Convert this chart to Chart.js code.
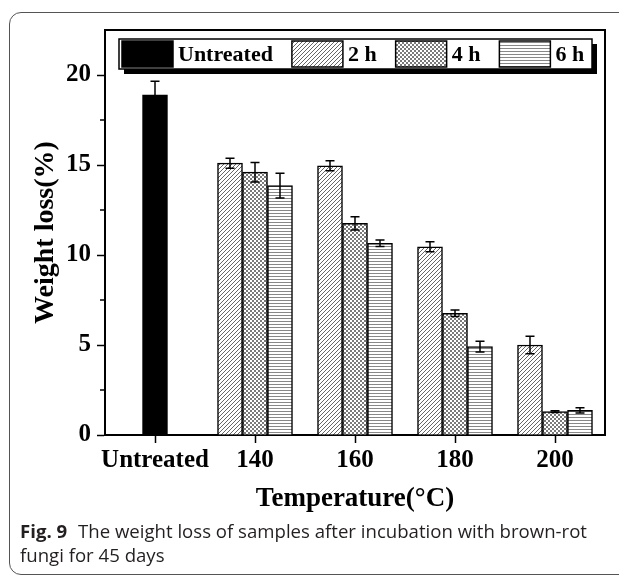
<!DOCTYPE html>
<html lang="en">
<head>
  <meta charset="UTF-8">
  <title>Weight loss after incubation</title>
  <script src="https://cdn.jsdelivr.net/npm/chart.js"></script>
  <style>
    body { margin: 0; background: #fff; overflow: hidden; }
    #wrap { position: relative; width: 619px; height: 576px; }
    #frame { position: absolute; left: 9px; top: 12px; width: 640px; height: 563px;
             border: 1px solid #555; border-radius: 12px; box-sizing: border-box; }
    #myChart { position: absolute; left: 0; top: 0; }
    #caption { position: absolute; left: 20px; top: 519px; font-family: "Open Sans", sans-serif;
               font-size: 18.6px; line-height: 24px; color: #231f20; white-space: nowrap; }
    #caption b { font-weight: 700; margin-right: 6px; }
  </style>
</head>
<body>
  <div id="wrap">
    <div id="frame"></div>
    <canvas id="myChart" width="619" height="576"></canvas>
    <div id="caption"><b>Fig. 9</b> The weight loss of samples after incubation with brown-rot<br>fungi for 45 days</div>
  </div>
  <script>
    // data
    const categories = ['Untreated', '140', '160', '180', '200'];
    const untreated    = [18.9, null, null, null, null];
    const untreatedErr = [0.75, null, null, null, null];
    const h2    = [null, 15.1, 14.96, 10.46, 5.0];
    const h2Err = [null, 0.28, 0.28, 0.28, 0.48];
    const h4    = [null, 14.6, 11.76, 6.76, 1.3];
    const h4Err = [null, 0.54, 0.37, 0.18, 0.05];
    const h6    = [null, 13.85, 10.65, 4.91, 1.37];
    const h6Err = [null, 0.69, 0.18, 0.3, 0.15];

    // fill patterns
    function makePattern(size, draw) {
      const c = document.createElement('canvas');
      c.width = size[0]; c.height = size[1];
      const g = c.getContext('2d');
      g.fillStyle = '#fff';
      g.fillRect(0, 0, c.width, c.height);
      draw(g, c.width, c.height);
      return document.getElementById('myChart').getContext('2d').createPattern(c, 'repeat');
    }
    const diagPattern = makePattern([4, 4], (g, w, h) => {
      g.strokeStyle = '#666';
      g.lineWidth = 1;
      g.beginPath();
      g.moveTo(-1, h + 1); g.lineTo(w + 1, -1);
      g.moveTo(-1, 1); g.lineTo(1, -1);
      g.moveTo(w - 1, h + 1); g.lineTo(w + 1, h - 1);
      g.stroke();
    });
    const checkPattern = makePattern([4, 4], (g) => {
      g.fillStyle = '#7a7a7a';
      g.fillRect(0, 0, 2, 2);
      g.fillRect(2, 2, 2, 2);
    });
    const hLinePattern = makePattern([4, 3], (g, w) => {
      g.fillStyle = '#888';
      g.fillRect(0, 0, w, 1);
    });

    const errors = [untreatedErr, h2Err, h4Err, h6Err];

    const serif = '"Liberation Serif", "Times New Roman", serif';

    // frame, minor ticks, error bars, legend
    const extras = {
      id: 'extras',
      afterDatasetsDraw(chart) {
        const ctx = chart.ctx;
        const a = chart.chartArea;
        const y = chart.scales.y;
        ctx.save();
        ctx.strokeStyle = '#000';
        ctx.lineWidth = 1.5;
        // error bars
        chart.data.datasets.forEach((ds, di) => {
          const meta = chart.getDatasetMeta(di);
          ds.data.forEach((v, i) => {
            if (v == null) return;
            const e = errors[di][i];
            const bar = meta.data[i];
            const yt = y.getPixelForValue(v + e);
            const yb = y.getPixelForValue(v - e);
            ctx.beginPath();
            ctx.moveTo(bar.x, yt); ctx.lineTo(bar.x, yb);
            ctx.moveTo(bar.x - 4.5, yt); ctx.lineTo(bar.x + 4.5, yt);
            ctx.moveTo(bar.x - 4.5, yb); ctx.lineTo(bar.x + 4.5, yb);
            ctx.stroke();
          });
        });
        // top and right border
        ctx.lineWidth = 2;
        ctx.beginPath();
        ctx.moveTo(a.left, a.top); ctx.lineTo(a.right, a.top); ctx.lineTo(a.right, a.bottom);
        ctx.stroke();
        // minor ticks
        ctx.lineWidth = 1.5;
        [2.5, 7.5, 12.5, 17.5].forEach(t => {
          const py = y.getPixelForValue(t);
          ctx.beginPath();
          ctx.moveTo(a.left - 5, py); ctx.lineTo(a.left, py);
          ctx.stroke();
        });
        // legend box with shadow
        const bx = a.left + 14, by = a.top + 9, bw = 473, bh = 30;
        ctx.fillStyle = '#000';
        ctx.fillRect(bx + 5, by + 5, bw, bh);
        ctx.fillStyle = '#fff';
        ctx.fillRect(bx, by, bw, bh);
        ctx.strokeRect(bx, by, bw, bh);
        ctx.font = 'bold 22px ' + serif;
        ctx.textBaseline = 'middle';
        let x = bx + 3;
        chart.data.datasets.forEach((ds) => {
          ctx.fillStyle = ds.backgroundColor;
          ctx.fillRect(x, by + 2, 51, 26);
          ctx.strokeRect(x, by + 2, 51, 26);
          x += 56;
          ctx.fillStyle = '#000';
          ctx.fillText(ds.label, x, by + bh / 2 + 1);
          x += ctx.measureText(ds.label).width + 19;
        });
        ctx.restore();
      }
    };

    const ctx = document.getElementById('myChart').getContext('2d');
    const myChart = new Chart(ctx, {
      type: 'bar',
      data: {
        labels: categories,
        datasets: [
          { label: 'Untreated', data: untreated, backgroundColor: '#000' },
          { label: '2 h', data: h2, backgroundColor: diagPattern },
          { label: '4 h', data: h4, backgroundColor: checkPattern },
          { label: '6 h', data: h6, backgroundColor: hLinePattern },
        ],
      },
      options: {
        responsive: false,
        animation: false,
        layout: { padding: { left: 0, right: 14, top: 30, bottom: 61 } },
        datasets: {
          bar: { skipNull: true, barThickness: 25, borderColor: '#000', borderWidth: 1.5, borderSkipped: 'bottom' }
        },
        plugins: {
          legend: { display: false },
          tooltip: { enabled: false },
        },
        scales: {
          x: {
            afterFit: (s) => { s.height = 80; },
            grid: { display: true, drawOnChartArea: false, offset: false, tickLength: 8, tickColor: '#000', tickWidth: 1.5 },
            border: { color: '#000', width: 2 },
            ticks: { color: '#000', padding: 3, autoSkip: false, maxRotation: 0, minRotation: 0,
                     font: { family: serif, size: 25, weight: 'bold' } },
            title: { display: true, text: 'Temperature(°C)', color: '#000', padding: { top: 0, bottom: 0 },
                     font: { family: serif, size: 27, weight: 'bold' } },
          },
          y: {
            min: 0,
            max: 22.5,
            afterFit: (s) => { s.width = 105; },
            grid: {
              display: true, drawOnChartArea: false, tickLength: 8, tickWidth: 1.5,
              tickColor: (c) => (c.tick && c.tick.value % 5 === 0 ? '#000' : 'rgba(0,0,0,0)'),
            },
            border: { color: '#000', width: 2 },
            ticks: {
              stepSize: 5, color: '#000', padding: 6,
              font: { family: serif, size: 25, weight: 'bold' },
              callback: (v) => (v % 5 === 0 ? v : ''),
            },
            title: { display: true, text: 'Weight loss(%)', color: '#000', padding: { top: 29, bottom: 0 },
                     font: { family: serif, size: 28, weight: 'bold' } },
          },
        },
      },
      plugins: [extras],
    });
  </script>
</body>
</html>
